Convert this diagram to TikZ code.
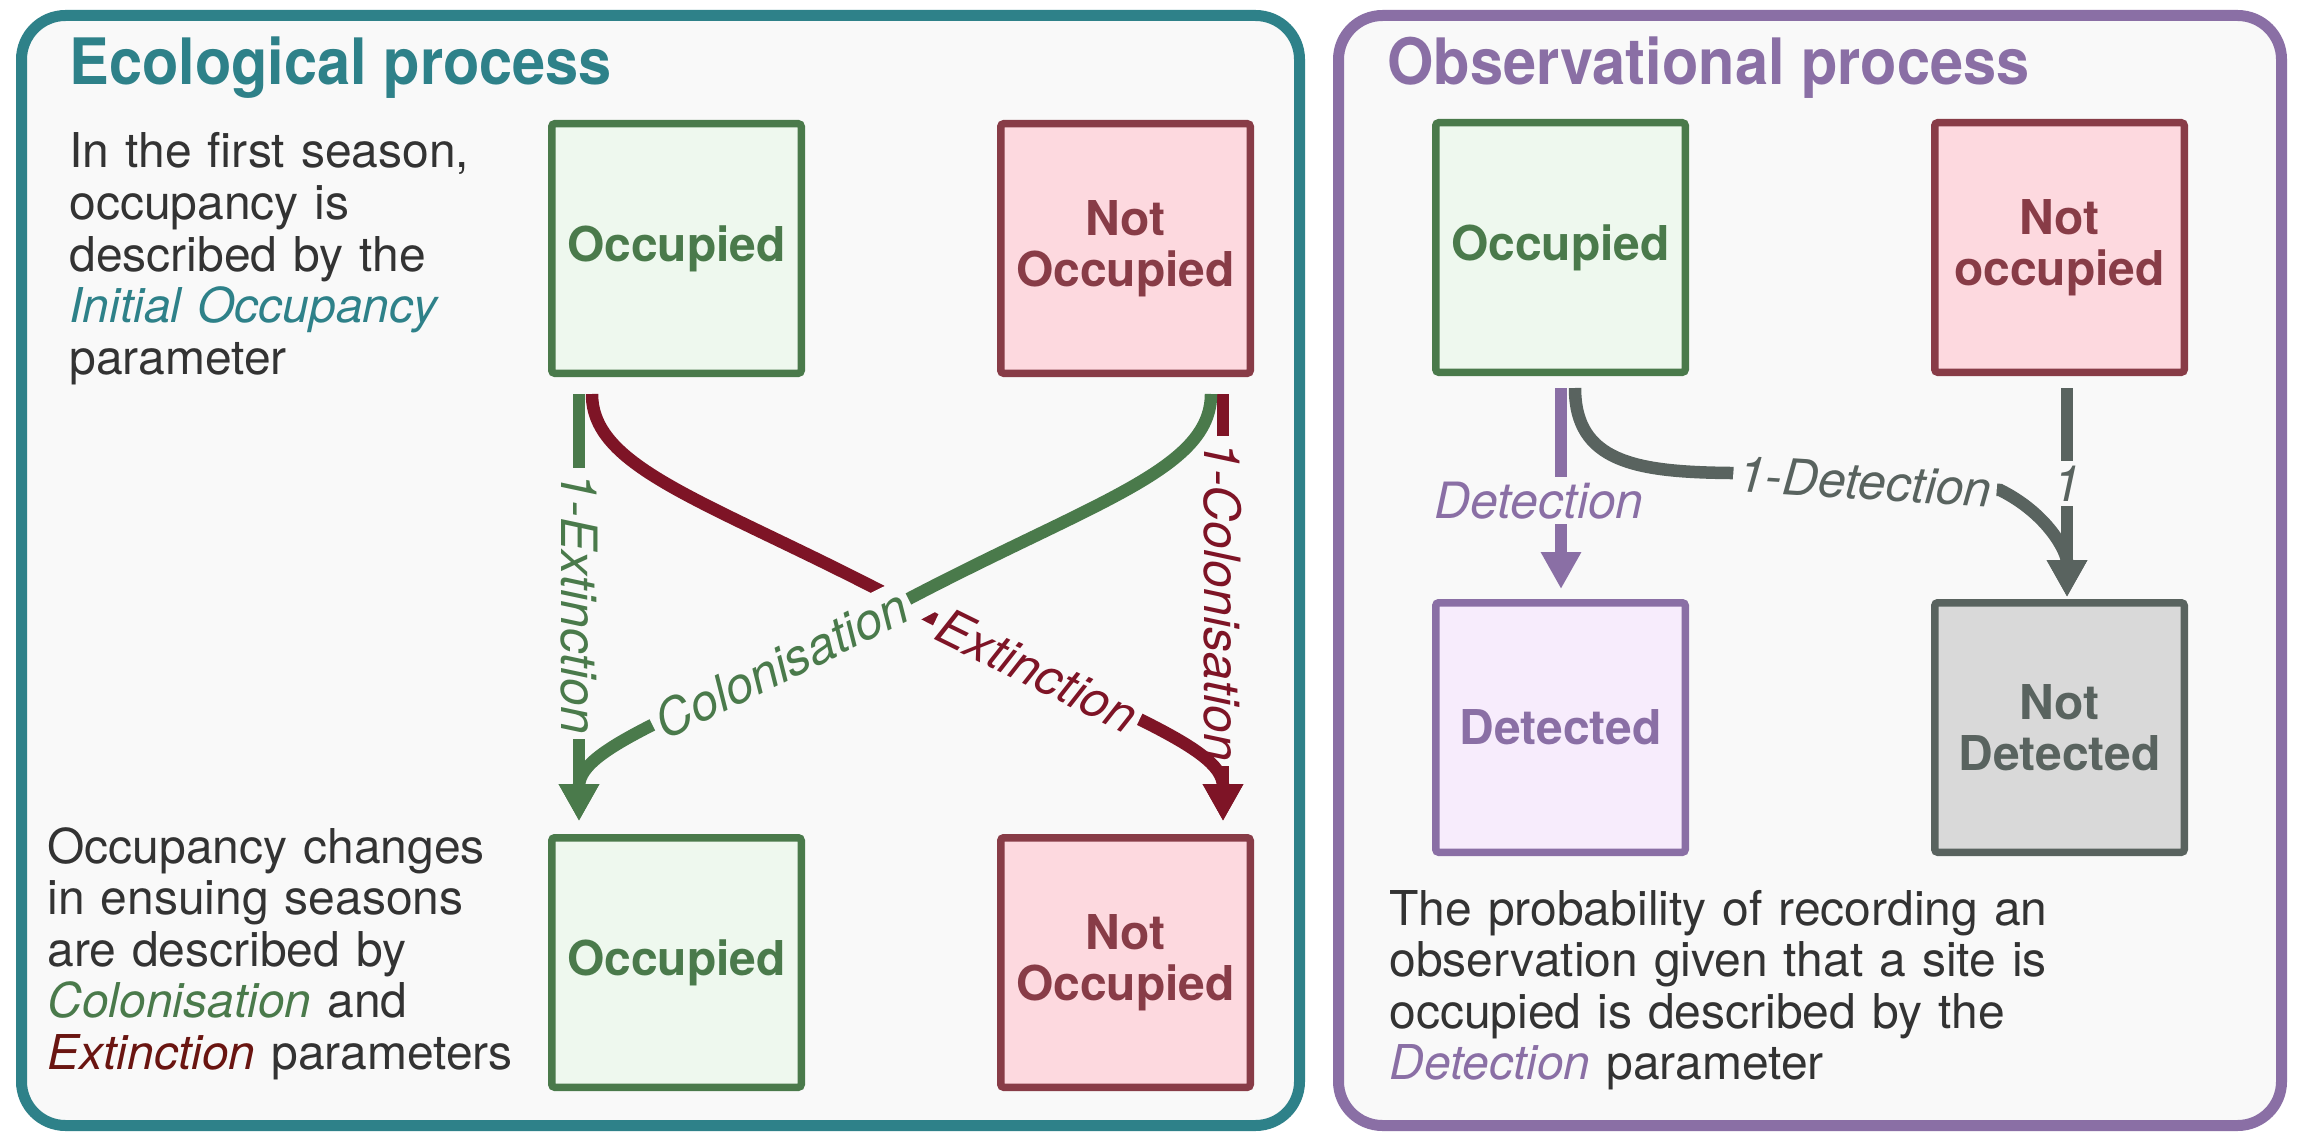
\documentclass[tikz,border=0pt]{standalone}
\usepackage{fontspec}
\setmainfont{TeX Gyre Heros}
\newfontfamily\titlefont{TeX Gyre Heros}[FakeStretch=0.93]
\usetikzlibrary{arrows.meta,calc}
\definecolor{tealc}{HTML}{2E8189}
\definecolor{purpc}{HTML}{8A6FA5}
\definecolor{panelbg}{HTML}{F9F9F9}
\definecolor{grnc}{HTML}{4A7A4B}
\definecolor{grnfill}{HTML}{EEF8EE}
\definecolor{pinkc}{HTML}{883C47}
\definecolor{pinkfill}{HTML}{FDD9DF}
\definecolor{dredc}{HTML}{7E1426}
\definecolor{extc}{HTML}{6A1511}
\definecolor{purpfill}{HTML}{F7ECFC}
\definecolor{gryc}{HTML}{59635F}
\definecolor{gryfill}{HTML}{D9D9D9}
\definecolor{txtc}{HTML}{333333}
\begin{document}
\begin{tikzpicture}[x=0.5pt,y=-0.5pt,
  panel/.style={line width=5.5pt, rounded corners=22pt, fill=panelbg},
  ptitle/.style={anchor=base west, inner sep=0pt, font=\titlefont\bfseries\fontsize{32pt}{34pt}\selectfont},
  bodytext/.style={anchor=base west, inner sep=0pt, text width=330pt, align=left, text=txtc, font=\fontsize{24pt}{25.8pt}\selectfont},
  statebox/.style={draw, line width=3.75pt, minimum width=124.75pt, minimum height=124.75pt, inner sep=0pt, align=center, rounded corners=1.5pt, font=\bfseries\fontsize{24pt}{25.5pt}\selectfont},
  occbox/.style={statebox, draw=grnc, fill=grnfill, text=grnc},
  notbox/.style={statebox, draw=pinkc, fill=pinkfill, text=pinkc},
  detbox/.style={statebox, draw=purpc, fill=purpfill, text=purpc},
  ndetbox/.style={statebox, draw=gryc, fill=gryfill, text=gryc},
  conn/.style={line width=6.25pt, -{Triangle[length=18.5pt,width=19pt]}},
  halo/.style={line width=20pt, draw=panelbg},
  lab/.style={font=\itshape\fontsize{25pt}{27pt}\selectfont, fill=panelbg, inner sep=2.5pt}
]
\fill[white] (0,0) rectangle (2305,1144);
\useasboundingbox (0,0) rectangle (2305,1144);

% panels
\draw[panel, draw=tealc] (21.5,15.5) rectangle (1299.5,1125.5);
\draw[panel, draw=purpc] (1338.5,15.5) rectangle (2281.5,1125.5);

% titles
\node[ptitle, text=tealc] (ecoT) at (69,85) {Ecological process};
\node[ptitle, text=purpc] (obsT) at (1387,85) {Observational process};

% texts
\node[bodytext] (ecoTxt1) at (69,168) {In the first season,\\occupancy is\\described by the\\{\itshape\color{tealc}Initial Occupancy}\\parameter};
\node[bodytext] (ecoTxt2) at (47,863) {Occupancy changes\\in ensuing seasons\\are described by\\{\itshape\color{grnc}Colonisation} and\\{\itshape\color{extc}Extinction} parameters};
\node[bodytext] (obsTxt) at (1389,925) {The probability of recording an\\observation given that a site is\\occupied is described by the\\{\itshape\color{purpc}Detection} parameter};

% ecological boxes
\node[occbox] (eOcc1) at (676.5,248.5) {Occupied};
\node[notbox] (eNot1) at (1125.5,248.5) {Not\\Occupied};
\node[occbox] (eOcc2) at (676.5,962.5) {Occupied};
\node[notbox] (eNot2) at (1125.5,962.5) {Not\\Occupied};

% observational boxes
\node[occbox] (oOcc) at (1560.5,247.5) {Occupied};
\node[notbox] (oNot) at (2059.5,247.5) {Not\\occupied};
\node[detbox] (oDet) at (1560.5,727.5) {Detected};
\node[ndetbox] (oNDet) at (2059.5,727.5) {Not\\Detected};

% ecological connectors
\draw[conn, draw=grnc] ($(eOcc1.south)+(-97.5,17)$) -- ($(eOcc2.north)+(-97.5,-13)$)
  node[lab, text=grnc, rotate=-90, pos=0.49] {1-Extinction};
\draw[conn, draw=dredc] ($(eNot1.south)+(97.5,17)$) -- ($(eNot2.north)+(97.5,-13)$)
  node[lab, text=dredc, rotate=-90, pos=0.485] {1-Colonisation};
\draw[conn, draw=dredc] ($(eOcc1.south)+(-84.5,17)$) .. controls +(0,77) and (714.5,502.5) .. (908.5,605.5)
  .. controls (1102.5,708.5) and +(0,-77) .. ($(eNot2.north)+(97.5,-13)$)
  node[lab, text=dredc, sloped, pos=0.245] {Extinction};
% bridge gap where the green path crosses the red one
\draw[halo] (930,592) -- (866,626);
\draw[conn, draw=grnc] ($(eNot1.south)+(85.5,17)$) .. controls +(0,77) and (1090,502.5) .. (896,605.5)
  .. controls (702,708.5) and +(0,-77) .. ($(eOcc2.north)+(-97.5,-13)$)
  node[lab, text=grnc, sloped, pos=0.215] {Colonisation};

% observational connectors
\draw[conn, draw=purpc] ($(oOcc.south)+(0.5,12)$) -- ($(oDet.north)+(0.5,-10)$)
  node[lab, text=purpc, pos=0.56, xshift=-11pt] {Detection};
\draw[conn, draw=gryc] ($(oOcc.south)+(14.5,12)$) .. controls +(0,74) and (1636,472) .. (1730,473)
  -- (2000,490) node[lab, text=gryc, sloped, midway] {1-Detection}
  .. controls (2048,514) and +(0,-45) .. ($(oNDet.north)+(7.5,-2)$);
\draw[conn, draw=gryc] ($(oNot.south)+(7.5,12)$) -- ($(oNDet.north)+(7.5,-2)$)
  node[lab, text=gryc, pos=0.457] {1};
\end{tikzpicture}
\end{document}
